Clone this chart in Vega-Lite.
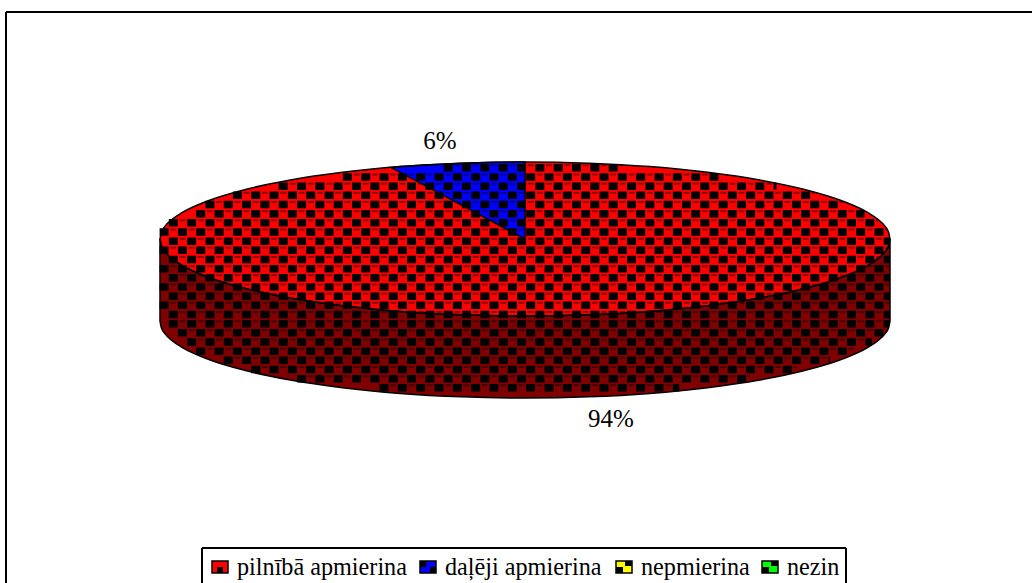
{
"$schema":"https://vega.github.io/schema/vega-lite/v6.json",
"width":1032,"height":583,"padding":0,"autosize":{"type":"none"},
"background":"white",
"config":{"view":{"stroke":null}},
"datasets":{
"disc":[
{"x":160,"top":239,"bottom":239,"rim":321},{"x":161.4,"top":232.3,"bottom":245.7,"rim":327.7},{"x":165.5,"top":225.6,"bottom":252.4,"rim":334.4},{"x":172.4,"top":219.1,"bottom":258.9,"rim":340.9},{"x":182,"top":212.7,"bottom":265.3,"rim":347.3},{"x":208.9,"top":200.5,"bottom":277.5,"rim":359.5},{"x":245.4,"top":189.5,"bottom":288.5,"rim":370.5},{"x":290.4,"top":180,"bottom":298,"rim":380},{"x":342.5,"top":172.3,"bottom":305.7,"rim":387.7},{"x":400.2,"top":166.6,"bottom":311.4,"rim":393.4},{"x":461.6,"top":163.2,"bottom":314.8,"rim":396.8},{"x":525,"top":162,"bottom":316,"rim":398},{"x":588.4,"top":163.2,"bottom":314.8,"rim":396.8},{"x":649.8,"top":166.6,"bottom":311.4,"rim":393.4},{"x":707.5,"top":172.3,"bottom":305.7,"rim":387.7},{"x":759.6,"top":180,"bottom":298,"rim":380},{"x":804.6,"top":189.5,"bottom":288.5,"rim":370.5},{"x":841.1,"top":200.5,"bottom":277.5,"rim":359.5},{"x":868,"top":212.7,"bottom":265.3,"rim":347.3},{"x":877.6,"top":219.1,"bottom":258.9,"rim":340.9},{"x":884.5,"top":225.6,"bottom":252.4,"rim":334.4},{"x":888.6,"top":232.3,"bottom":245.7,"rim":327.7},{"x":890,"top":239,"bottom":239,"rim":321}],
"wedge":[
{"x":391,"top":167.4,"low":167.4},{"x":400.2,"top":166.6,"low":172.3},{"x":430,"top":164.7,"low":188.2},{"x":461.6,"top":163.2,"low":205.1},{"x":495,"top":162.3,"low":223},{"x":525,"top":162,"low":239}],
"grid":[
{"y":167.8,"a":445.2,"b":622.5},{"y":177,"a":344.4,"b":720.7},{"y":186.2,"a":280.2,"b":776.5},{"y":195.3,"a":234.4,"b":815.2},{"y":204.5,"a":206.9,"b":843.8},{"y":213.7,"a":197.7,"b":864.5},{"y":222.8,"a":170.3,"b":878.5},{"y":232,"a":161.1,"b":886.9},{"y":241.2,"a":170.3,"b":890},{"y":250.3,"a":161.1,"b":890},{"y":259.5,"a":170.3,"b":890},{"y":268.7,"a":161.1,"b":890},{"y":277.8,"a":170.3,"b":890},{"y":287,"a":161.1,"b":890},{"y":296.2,"a":170.3,"b":890},{"y":305.3,"a":161.1,"b":890},{"y":314.5,"a":170.3,"b":890},{"y":323.7,"a":170.3,"b":889},{"y":332.8,"a":179.4,"b":883.2},{"y":342,"a":188.6,"b":871.8},{"y":351.2,"a":197.7,"b":854.3},{"y":360.3,"a":225.3,"b":830},{"y":369.5,"a":252.7,"b":796.4},{"y":378.7,"a":298.6,"b":749.7},{"y":387.8,"a":381,"b":679.3}],
"frame":[
{"x":6,"x2":1032,"y":12,"y2":12},{"x":6,"x2":6,"y":12,"y2":583},{"x":202,"x2":846,"y":548,"y2":548},{"x":202,"x2":202,"y":548,"y2":583},{"x":846,"x2":846,"y":548,"y2":583}],
"swatch":[
{"series":"pilnībā apmierina","x":212,"x2":228,"y":561,"y2":573},{"series":"daļēji apmierina","x":420,"x2":436,"y":561,"y2":573},{"series":"nepmierina","x":616,"x2":632,"y":561,"y2":573},{"series":"nezin","x":762,"x2":778,"y":561,"y2":573}],
"swatchDetail":[
{"x":217,"x2":223,"y":567,"y2":573},{"x":420,"x2":426,"y":561,"y2":567},{"x":430,"x2":436,"y":567,"y2":573},{"x":616,"x2":623,"y":567,"y2":573},{"x":625,"x2":632,"y":561,"y2":566},{"x":762,"x2":769,"y":567,"y2":573},{"x":771,"x2":778,"y":561,"y2":566}],
"legendText":[
{"x":237,"label":"pilnībā apmierina"},{"x":445,"label":"daļēji apmierina"},{"x":641,"label":"nepmierina"},{"x":787,"label":"nezin"}],
"pct":[{"x":440,"y":149,"label":"6%"},{"x":611,"y":427,"label":"94%"}]
},
"layer":[
{"data":{"name":"frame"},"mark":{"type":"rule","stroke":"#000","strokeWidth":2},
 "encoding":{"x":{"field":"x","type":"quantitative","scale":{"domain":[0,1032],"range":[0,1032],"nice":false,"zero":false},"axis":null},"x2":{"field":"x2"},"y":{"field":"y","type":"quantitative","scale":{"domain":[0,583],"range":[0,583],"nice":false,"zero":false},"axis":null},"y2":{"field":"y2"}}},
{"data":{"name":"disc"},"mark":{"type":"area","fill":"#800000","interpolate":"monotone"},
 "encoding":{"x":{"field":"x","type":"quantitative","axis":null},"y":{"field":"bottom","type":"quantitative","axis":null},"y2":{"field":"rim"}}},
{"data":{"name":"disc"},"mark":{"type":"area","fill":"#ff0000","interpolate":"monotone"},
 "encoding":{"x":{"field":"x","type":"quantitative","axis":null},"y":{"field":"top","type":"quantitative","axis":null},"y2":{"field":"bottom"}}},
{"data":{"name":"wedge"},"mark":{"type":"area","fill":"#0000ff","interpolate":"monotone"},
 "encoding":{"x":{"field":"x","type":"quantitative","axis":null},"y":{"field":"top","type":"quantitative","axis":null},"y2":{"field":"low"}}},
{"data":{"name":"grid"},"mark":{"type":"rule","stroke":"#000","strokeWidth":7.5,"strokeDash":[9,9.33],"xOffset":-1.5,"x2Offset":0},
 "encoding":{"x":{"field":"a","type":"quantitative","axis":null},"x2":{"field":"b"},"y":{"field":"y","type":"quantitative","axis":null}}},
{"data":{"name":"grid"},"mark":{"type":"rule","stroke":"#000","strokeOpacity":0.45,"strokeWidth":2,"strokeDash":[6,12.33],"xOffset":9.17,"x2Offset":0,"yOffset":-2.5},
 "encoding":{"x":{"field":"a","type":"quantitative","axis":null},"x2":{"field":"b"},"y":{"field":"y","type":"quantitative","axis":null}}},
{"data":{"name":"disc"},"mark":{"type":"area","fillOpacity":0,"stroke":"#000","strokeWidth":1.5,"interpolate":"monotone"},
 "encoding":{"x":{"field":"x","type":"quantitative","axis":null},"y":{"field":"bottom","type":"quantitative","axis":null},"y2":{"field":"rim"}}},
{"data":{"name":"disc"},"mark":{"type":"area","fillOpacity":0,"stroke":"#000","strokeWidth":1.5,"interpolate":"monotone"},
 "encoding":{"x":{"field":"x","type":"quantitative","axis":null},"y":{"field":"top","type":"quantitative","axis":null},"y2":{"field":"bottom"}}},
{"data":{"name":"wedge"},"mark":{"type":"area","fillOpacity":0,"stroke":"#000","strokeWidth":1.5,"interpolate":"monotone"},
 "encoding":{"x":{"field":"x","type":"quantitative","axis":null},"y":{"field":"top","type":"quantitative","axis":null},"y2":{"field":"low"}}},
{"data":{"name":"swatch"},"mark":{"type":"rect","stroke":"#000","strokeWidth":1.5},
 "encoding":{"x":{"field":"x","type":"quantitative","axis":null},"x2":{"field":"x2"},"y":{"field":"y","type":"quantitative","axis":null},"y2":{"field":"y2"},
 "fill":{"field":"series","type":"nominal","legend":null,"scale":{"domain":["pilnībā apmierina","daļēji apmierina","nepmierina","nezin"],"range":["#ff0000","#0000ff","#ffff00","#00ff00"]}}}},
{"data":{"name":"swatchDetail"},"mark":{"type":"rect","fill":"#000"},
 "encoding":{"x":{"field":"x","type":"quantitative","axis":null},"x2":{"field":"x2"},"y":{"field":"y","type":"quantitative","axis":null},"y2":{"field":"y2"}}},
{"data":{"name":"legendText"},"mark":{"type":"text","font":"Liberation Serif","fontSize":24.2,"align":"left","baseline":"alphabetic","color":"#000","y":575},
 "encoding":{"x":{"field":"x","type":"quantitative","axis":null},"text":{"field":"label"}}},
{"data":{"name":"pct"},"mark":{"type":"text","font":"Liberation Serif","fontSize":25,"align":"center","baseline":"alphabetic","color":"#000"},
 "encoding":{"x":{"field":"x","type":"quantitative","axis":null},"y":{"field":"y","type":"quantitative","axis":null},"text":{"field":"label"}}}
]
}
